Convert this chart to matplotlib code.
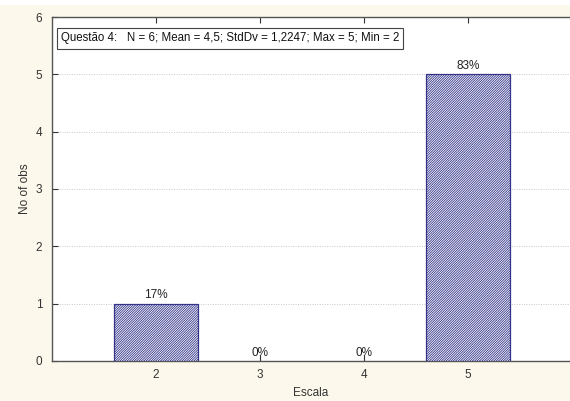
import matplotlib.pyplot as plt
from matplotlib.patches import Rectangle

plt.rcParams['font.family'] = ['Liberation Sans', 'DejaVu Sans']
plt.rcParams['hatch.linewidth'] = 0.6

# Frequências da Questão 4
escala = [2, 3, 4, 5]
n_obs = [1, 0, 0, 5]
resumo = 'Questão 4:   N = 6; Mean = 4,5; StdDv = 1,2247; Max = 5; Min = 2'

total = sum(n_obs)
pct = [f'{round(100 * c / total)}%' for c in n_obs]

fig = plt.figure(figsize=(5.70, 4.01), dpi=100)
fig.patch.set_facecolor('#fcf8ec')
# faixa branca no topo
fig.add_artist(Rectangle((0, 0.987), 1, 0.013, transform=fig.transFigure,
                         facecolor='white', edgecolor='none'))

ax = fig.add_axes([0.0912, 0.0998, 0.9088, 0.8578])
ax.set_facecolor('white')

# barras com altura zero ficam sem contorno
lw = [0.9 if c > 0 else 0 for c in n_obs]
ax.bar(escala, n_obs, width=0.8, facecolor='white', edgecolor='#33338a',
       hatch='/' * 14, linewidth=lw, zorder=3)
for x, c, p in zip(escala, n_obs, pct):
    ax.text(x, c + 0.04, p, ha='center', va='bottom', fontsize=8.5, color='#222222')

ax.set_xlim(1, 5.98)
ax.set_ylim(0, 6)
ax.set_xticks(escala)
ax.set_yticks(range(0, 7))
ax.tick_params(axis='both', direction='in', labelsize=8.5, colors='#333333',
               length=4, width=0.8)
ax.tick_params(axis='x', top=True, pad=6)
ax.tick_params(axis='y', pad=7)
ax.yaxis.grid(True, linestyle=(0, (1, 1.5)), color='#c8c8c8', linewidth=0.7, zorder=0)

for s in ['left', 'bottom', 'top']:
    ax.spines[s].set_color('#555555')
    ax.spines[s].set_linewidth(1.0)
ax.spines['right'].set_visible(False)

ax.set_xlabel('Escala', fontsize=8.5, color='#333333', labelpad=4)
ax.set_ylabel('No of obs', fontsize=8.5, color='#333333', labelpad=3)

ax.text(0.017, 0.955, resumo, transform=ax.transAxes, fontsize=8.3, va='top', ha='left',
        color='#111111',
        bbox=dict(boxstyle='square,pad=0.35', facecolor='white', edgecolor='#444444',
                  linewidth=0.8))

fig.savefig('out.png', dpi=100, facecolor=fig.get_facecolor())
